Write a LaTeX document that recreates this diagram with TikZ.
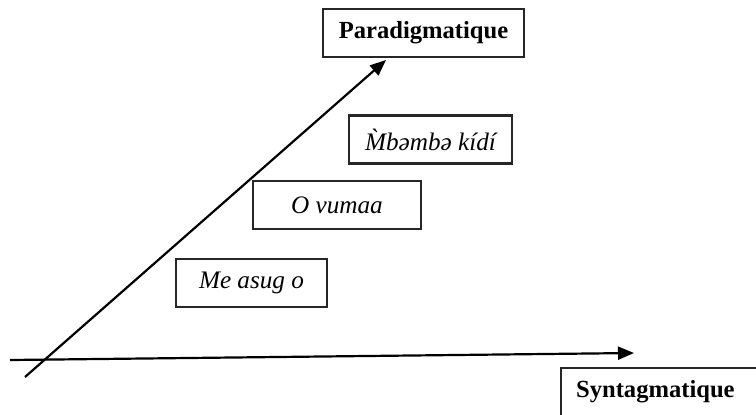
\documentclass[tikz,border=0pt]{standalone}
\usepackage{fontspec}
\setmainfont{Liberation Serif}
\usepackage{tikz}
\usetikzlibrary{arrows.meta, positioning}

\begin{document}
\begin{tikzpicture}[
    x=0.5pt, y=-0.5pt,
    wordbox/.style={rectangle, draw=black!85, line width=1.1pt, minimum height=24pt,
                    inner sep=0pt, align=center, font=\fontsize{12.6}{14}\selectfont\itshape},
    axisbox/.style={rectangle, draw=black!85, line width=1.1pt, minimum height=24pt,
                    inner sep=0pt, font=\fontsize{12.3}{14}\selectfont\bfseries},
    axis/.style={line width=1.1pt, -{Triangle[length=8pt, width=6.5pt]}}
]
    \useasboundingbox (0,0) rectangle (756,414);
    \clip (0,0) rectangle (756,414);

    % Boxes
    \node[axisbox, minimum width=100.5pt] (para) at (423.5,33) {Paradigmatique};
    \node[wordbox, minimum width=81.5pt] (mbemba) at (430.5,139.5) {M̀bəmbə kídí};
    \node[wordbox, minimum width=84pt] (vumaa) at (337,205) {O vumaa};
    \node[wordbox, minimum width=75.5pt] (asug) at (251.5,283) {Me asug o};
    \node[axisbox, anchor=north west, minimum width=110pt, text width=95pt,
          inner xsep=7.5pt, align=left] (synta) at (560,367) {Syntagmatique};

    % Axes
    \coordinate (hstart) at (10,360);
    \coordinate (hend) at (634,353);
    \coordinate (dstart) at (25,377);
    \coordinate (dend) at (386,60);
    \draw[axis] (hstart) -- (hend);
    \draw[axis] (dstart) -- (dend);
\end{tikzpicture}
\end{document}
